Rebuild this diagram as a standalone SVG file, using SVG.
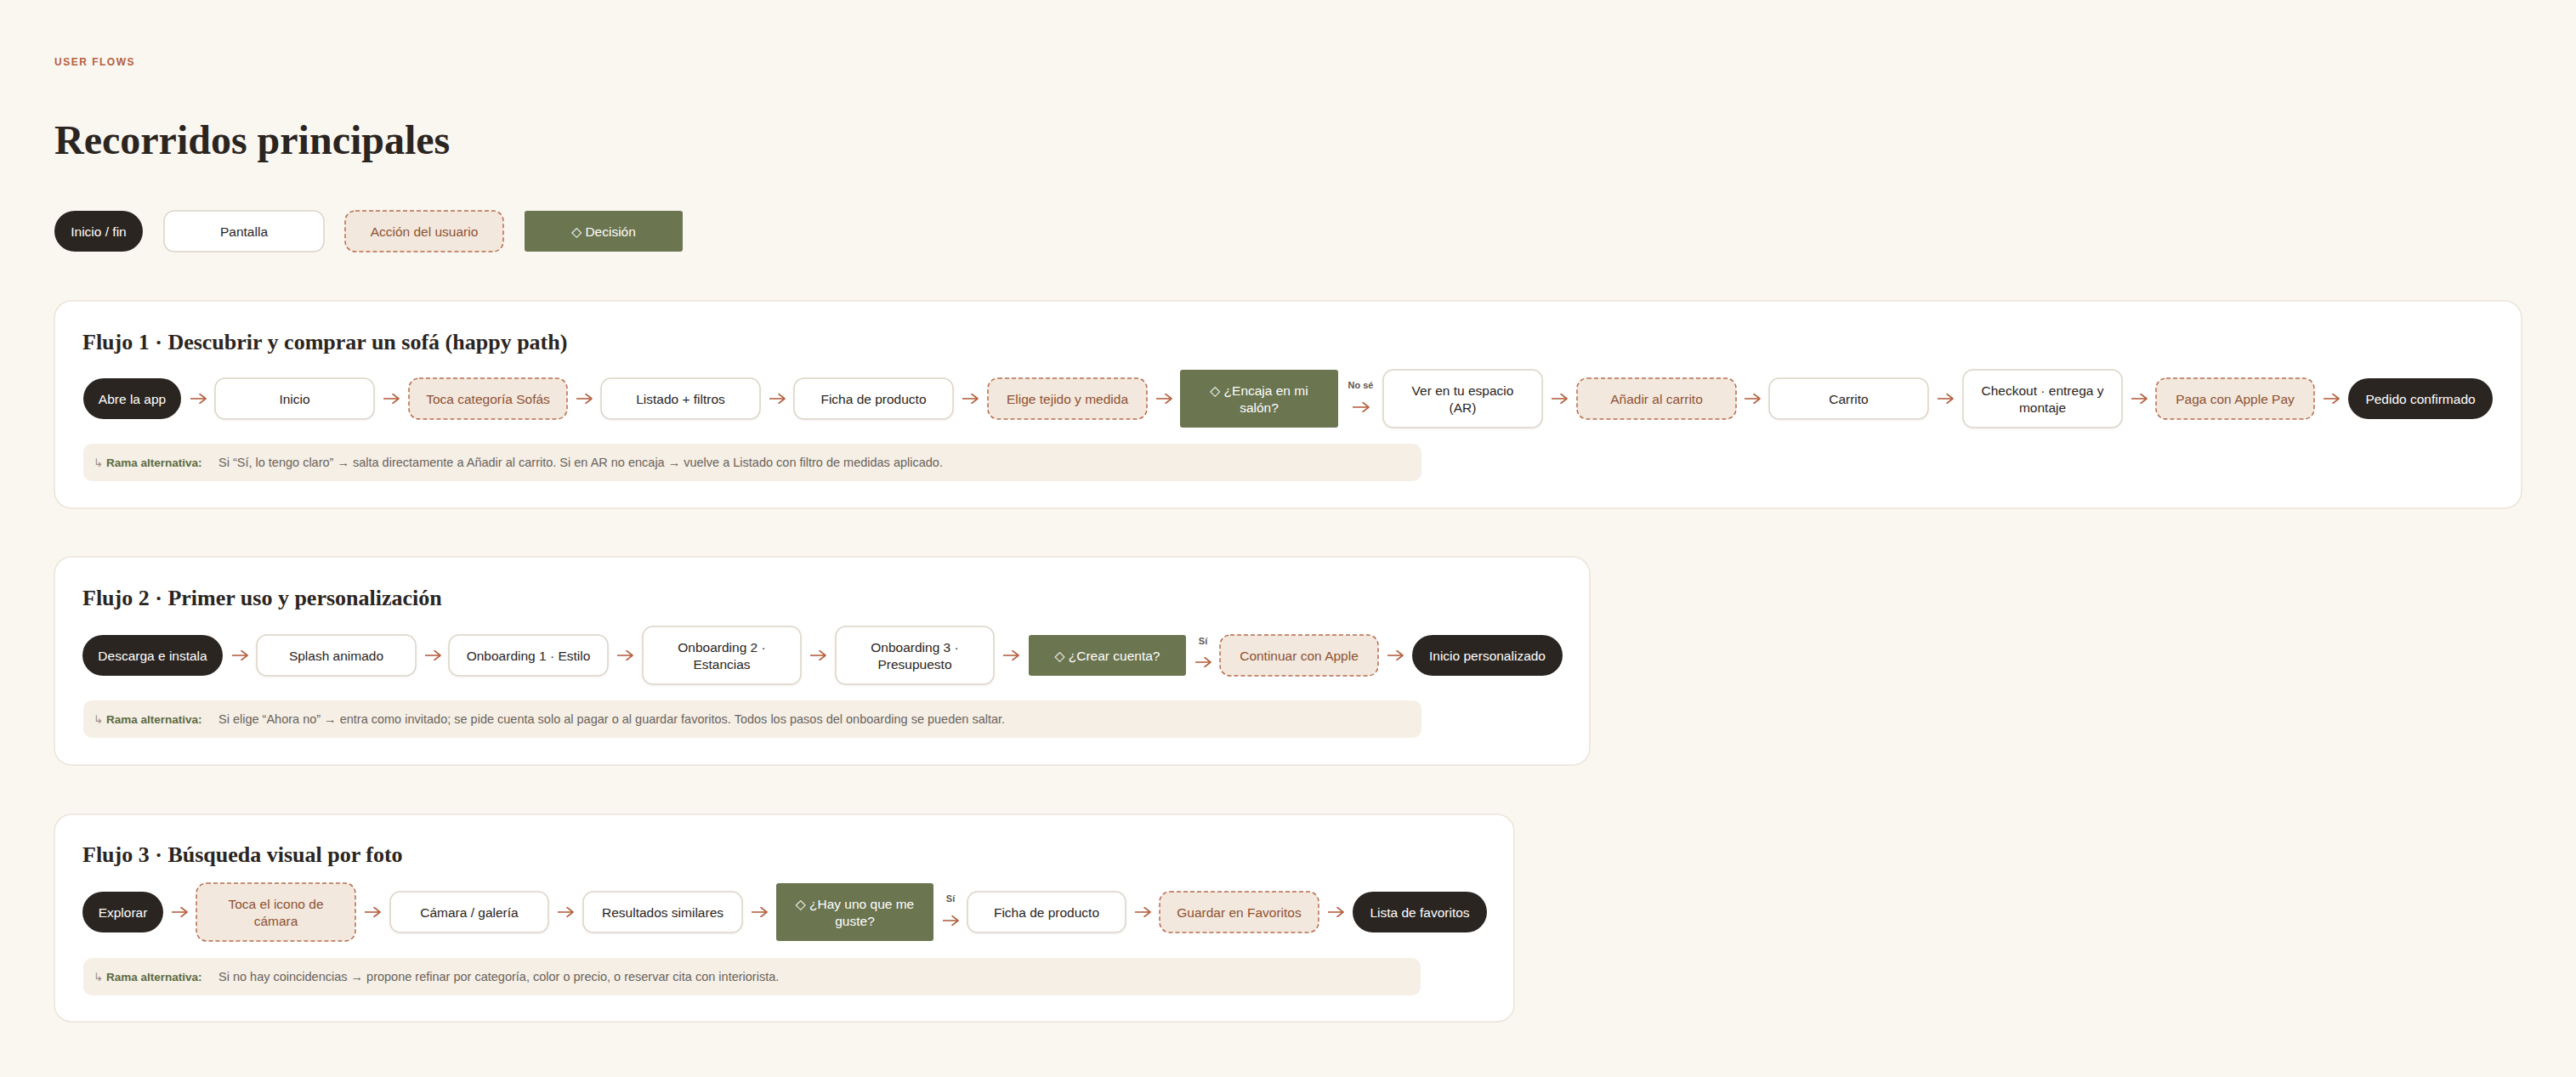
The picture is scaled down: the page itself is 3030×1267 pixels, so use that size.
<svg xmlns="http://www.w3.org/2000/svg" width="3030" height="1267" viewBox="0 0 3030 1267">
<defs>
<marker id="ah" viewBox="0 0 12 12" refX="10" refY="6" markerWidth="12" markerHeight="12" markerUnits="userSpaceOnUse" orient="auto">
<path d="M3 0.5 L10 6 L3 11.5" fill="none" stroke="#b5603f" stroke-width="1.6" stroke-linecap="round" stroke-linejoin="round"/>
</marker>
<filter id="sh" x="-5%" y="-10%" width="110%" height="130%">
<feDropShadow dx="0" dy="1" stdDeviation="1.2" flood-color="#5a4a3a" flood-opacity="0.08"/>
</filter>
</defs>
<style>
.card{fill:#ffffff;stroke:#ebe4d9;stroke-width:1.5}
.term{fill:#2b2521}
.screen{fill:#ffffff;stroke:#dcd3c6;stroke-width:1.5}
.action{fill:#f3e8dd;stroke:#b96b4b;stroke-width:1.5;stroke-dasharray:5 3}
.decision{fill:#6b7550}
.alt{fill:#f5efe6}
.t{font-family:"Liberation Sans","DejaVu Sans",sans-serif;font-size:15.5px;text-anchor:middle}
.tw{fill:#ffffff}
.ts{fill:#2b2521}
.ta{fill:#8d5234}
.h{font-family:"Liberation Serif","DejaVu Serif",serif;font-weight:700;fill:#2b2521}
.lbl{font-family:"Liberation Sans","DejaVu Sans",sans-serif;font-size:11px;fill:#5f574f;text-anchor:middle;font-weight:600}
.altt{font-family:"Liberation Sans","DejaVu Sans",sans-serif;font-size:14.5px;fill:#6b635a}
.altb{font-family:"Liberation Sans","DejaVu Sans",sans-serif;font-size:13.5px;font-weight:700;fill:#5d6b40}
.arr{stroke:#b5603f;stroke-width:1.6;fill:none;marker-end:url(#ah)}
</style>
<rect x="0" y="0" width="3030" height="1267" fill="#faf7f1"/>

<text x="64" y="77" font-family="Liberation Sans, DejaVu Sans, sans-serif" font-size="12" font-weight="700" letter-spacing="1.5" fill="#b5603f">USER FLOWS</text>
<text x="64" y="181" class="h" font-size="48">Recorridos principales</text>

<g id="legend">
<g id="legend-term"><rect x="64" y="248" width="104" height="48" rx="24" class="term"/><text x="116" y="277.5" class="t tw">Inicio / fin</text></g>
<g id="legend-screen"><rect x="193" y="248" width="188" height="48" rx="12" class="screen"/><text x="287" y="277.5" class="t ts">Pantalla</text></g>
<g id="legend-action"><rect x="406" y="248" width="186" height="48" rx="12" class="action"/><text x="499" y="277.5" class="t ta">Acción del usuario</text></g>
<g id="legend-decision"><rect x="617" y="248" width="186" height="48" rx="3" class="decision"/><text x="710" y="277.5" class="t tw">◇ Decisión</text></g>
</g>

<!-- Flow 1 -->
<g id="flow1">
<rect x="64" y="354" width="2902" height="244" rx="20" class="card"/>
<text x="97" y="411" class="h" font-size="26">Flujo 1 · Descubrir y comprar un sofá (happy path)</text>
<g id="f1-n1"><rect x="98" y="445" width="115" height="48" rx="24" class="term"/><text x="155.5" y="474.5" class="t tw">Abre la app</text></g>
<g id="f1-n2"><rect x="253" y="445" width="187" height="48" rx="12" class="screen" filter="url(#sh)"/><text x="346.5" y="474.5" class="t ts">Inicio</text></g>
<g id="f1-n3"><rect x="481" y="445" width="186" height="48" rx="12" class="action"/><text x="574" y="474.5" class="t ta">Toca categoría Sofás</text></g>
<g id="f1-n4"><rect x="707" y="445" width="187" height="48" rx="12" class="screen" filter="url(#sh)"/><text x="800.5" y="474.5" class="t ts">Listado + filtros</text></g>
<g id="f1-n5"><rect x="934" y="445" width="187" height="48" rx="12" class="screen" filter="url(#sh)"/><text x="1027.5" y="474.5" class="t ts">Ficha de producto</text></g>
<g id="f1-n6"><rect x="1162" y="445" width="187" height="48" rx="12" class="action"/><text x="1255.5" y="474.5" class="t ta">Elige tejido y medida</text></g>
<g id="f1-n7"><rect x="1388" y="435" width="186" height="68" rx="3" class="decision"/><text x="1481" y="464.5" class="t tw">◇ ¿Encaja en mi</text><text x="1481" y="484.5" class="t tw">salón?</text></g>
<g id="f1-n8"><rect x="1627" y="435" width="187" height="68" rx="12" class="screen" filter="url(#sh)"/><text x="1720.5" y="464.5" class="t ts">Ver en tu espacio</text><text x="1720.5" y="484.5" class="t ts">(AR)</text></g>
<g id="f1-n9"><rect x="1855" y="445" width="187" height="48" rx="12" class="action"/><text x="1948.5" y="474.5" class="t ta">Añadir al carrito</text></g>
<g id="f1-n10"><rect x="2081" y="445" width="187" height="48" rx="12" class="screen" filter="url(#sh)"/><text x="2174.5" y="474.5" class="t ts">Carrito</text></g>
<g id="f1-n11"><rect x="2309" y="435" width="187" height="68" rx="12" class="screen" filter="url(#sh)"/><text x="2402.5" y="464.5" class="t ts">Checkout · entrega y</text><text x="2402.5" y="484.5" class="t ts">montaje</text></g>
<g id="f1-n12"><rect x="2536" y="445" width="186" height="48" rx="12" class="action"/><text x="2629" y="474.5" class="t ta">Paga con Apple Pay</text></g>
<g id="f1-n13"><rect x="2762" y="445" width="170" height="48" rx="24" class="term"/><text x="2847" y="474.5" class="t tw">Pedido confirmado</text></g>
<g id="f1-alt"><rect x="98" y="522" width="1574" height="44" rx="10" class="alt"/>
<text x="110" y="549" class="altb"><tspan fill="#9a9086" font-weight="400">↳ </tspan>Rama alternativa:</text>
<text x="257" y="549" class="altt">Si “Sí, lo tengo claro” → salta directamente a Añadir al carrito. Si en AR no encaja → vuelve a Listado con filtro de medidas aplicado.</text></g>
</g>

<!-- Flow 2 -->
<g id="flow2">
<rect x="64" y="655" width="1806" height="245" rx="20" class="card"/>
<text x="97" y="712" class="h" font-size="26">Flujo 2 · Primer uso y personalización</text>
<g id="f2-n1"><rect x="97" y="747" width="165" height="48" rx="24" class="term"/><text x="179.5" y="776.5" class="t tw">Descarga e instala</text></g>
<g id="f2-n2"><rect x="302" y="747" width="187" height="48" rx="12" class="screen" filter="url(#sh)"/><text x="395.5" y="776.5" class="t ts">Splash animado</text></g>
<g id="f2-n3"><rect x="528" y="747" width="187" height="48" rx="12" class="screen" filter="url(#sh)"/><text x="621.5" y="776.5" class="t ts">Onboarding 1 · Estilo</text></g>
<g id="f2-n4"><rect x="756" y="737" width="186" height="68" rx="12" class="screen" filter="url(#sh)"/><text x="849" y="766.5" class="t ts">Onboarding 2 ·</text><text x="849" y="786.5" class="t ts">Estancias</text></g>
<g id="f2-n5"><rect x="983" y="737" width="186" height="68" rx="12" class="screen" filter="url(#sh)"/><text x="1076" y="766.5" class="t ts">Onboarding 3 ·</text><text x="1076" y="786.5" class="t ts">Presupuesto</text></g>
<g id="f2-n6"><rect x="1210" y="747" width="185" height="48" rx="3" class="decision"/><text x="1302.5" y="776.5" class="t tw">◇ ¿Crear cuenta?</text></g>
<g id="f2-n7"><rect x="1435" y="747" width="186" height="48" rx="12" class="action"/><text x="1528" y="776.5" class="t ta">Continuar con Apple</text></g>
<g id="f2-n8"><rect x="1661" y="747" width="177" height="48" rx="24" class="term"/><text x="1749.5" y="776.5" class="t tw">Inicio personalizado</text></g>
<g id="f2-alt"><rect x="98" y="824" width="1574" height="44" rx="10" class="alt"/>
<text x="110" y="851" class="altb"><tspan fill="#9a9086" font-weight="400">↳ </tspan>Rama alternativa:</text>
<text x="257" y="851" class="altt">Si elige “Ahora no” → entra como invitado; se pide cuenta solo al pagar o al guardar favoritos. Todos los pasos del onboarding se pueden saltar.</text></g>
</g>

<!-- Flow 3 -->
<g id="flow3">
<rect x="64" y="958" width="1717" height="244" rx="20" class="card"/>
<text x="97" y="1014" class="h" font-size="26">Flujo 3 · Búsqueda visual por foto</text>
<g id="f3-n1"><rect x="97" y="1049" width="95" height="48" rx="24" class="term"/><text x="144.5" y="1078.5" class="t tw">Explorar</text></g>
<g id="f3-n2"><rect x="231" y="1039" width="187" height="68" rx="12" class="action"/><text x="324.5" y="1068.5" class="t ta">Toca el icono de</text><text x="324.5" y="1088.5" class="t ta">cámara</text></g>
<g id="f3-n3"><rect x="459" y="1049" width="186" height="48" rx="12" class="screen" filter="url(#sh)"/><text x="552" y="1078.5" class="t ts">Cámara / galería</text></g>
<g id="f3-n4"><rect x="686" y="1049" width="187" height="48" rx="12" class="screen" filter="url(#sh)"/><text x="779.5" y="1078.5" class="t ts">Resultados similares</text></g>
<g id="f3-n5"><rect x="913" y="1039" width="185" height="68" rx="3" class="decision"/><text x="1005.5" y="1068.5" class="t tw">◇ ¿Hay uno que me</text><text x="1005.5" y="1088.5" class="t tw">guste?</text></g>
<g id="f3-n6"><rect x="1138" y="1049" width="186" height="48" rx="12" class="screen" filter="url(#sh)"/><text x="1231" y="1078.5" class="t ts">Ficha de producto</text></g>
<g id="f3-n7"><rect x="1364" y="1049" width="187" height="48" rx="12" class="action"/><text x="1457.5" y="1078.5" class="t ta">Guardar en Favoritos</text></g>
<g id="f3-n8"><rect x="1591" y="1049" width="158" height="48" rx="24" class="term"/><text x="1670" y="1078.5" class="t tw">Lista de favoritos</text></g>
<g id="f3-alt"><rect x="98" y="1127" width="1573" height="44" rx="10" class="alt"/>
<text x="110" y="1154" class="altb"><tspan fill="#9a9086" font-weight="400">↳ </tspan>Rama alternativa:</text>
<text x="257" y="1154" class="altt">Si no hay coincidencias → propone refinar por categoría, color o precio, o reservar cita con interiorista.</text></g>
</g>

<g id="connectors">
<path class="arr" d="M224 469H242"/>
<path class="arr" d="M451 469H469"/>
<path class="arr" d="M678 469H696"/>
<path class="arr" d="M905 469H923"/>
<path class="arr" d="M1132 469H1150"/>
<path class="arr" d="M1360 469H1378"/>
<text x="1600.5" y="457" class="lbl">No sé</text>
<path class="arr" d="M1591 479H1610"/>
<path class="arr" d="M1825 469H1843"/>
<path class="arr" d="M2052 469H2070"/>
<path class="arr" d="M2279 469H2297"/>
<path class="arr" d="M2507 469H2525"/>
<path class="arr" d="M2733 469H2751"/>

<path class="arr" d="M273 771H291"/>
<path class="arr" d="M500 771H518"/>
<path class="arr" d="M726 771H744"/>
<path class="arr" d="M953 771H971"/>
<path class="arr" d="M1180 771H1198"/>
<text x="1415" y="758" class="lbl">Sí</text>
<path class="arr" d="M1406 779H1424"/>
<path class="arr" d="M1632 771H1650"/>

<path class="arr" d="M202 1073H220"/>
<path class="arr" d="M429 1073H447"/>
<path class="arr" d="M656 1073H674"/>
<path class="arr" d="M884 1073H902"/>
<text x="1118" y="1061" class="lbl">Sí</text>
<path class="arr" d="M1109 1083H1127"/>
<path class="arr" d="M1335 1073H1353"/>
<path class="arr" d="M1562 1073H1580"/>
</g>
</svg>
